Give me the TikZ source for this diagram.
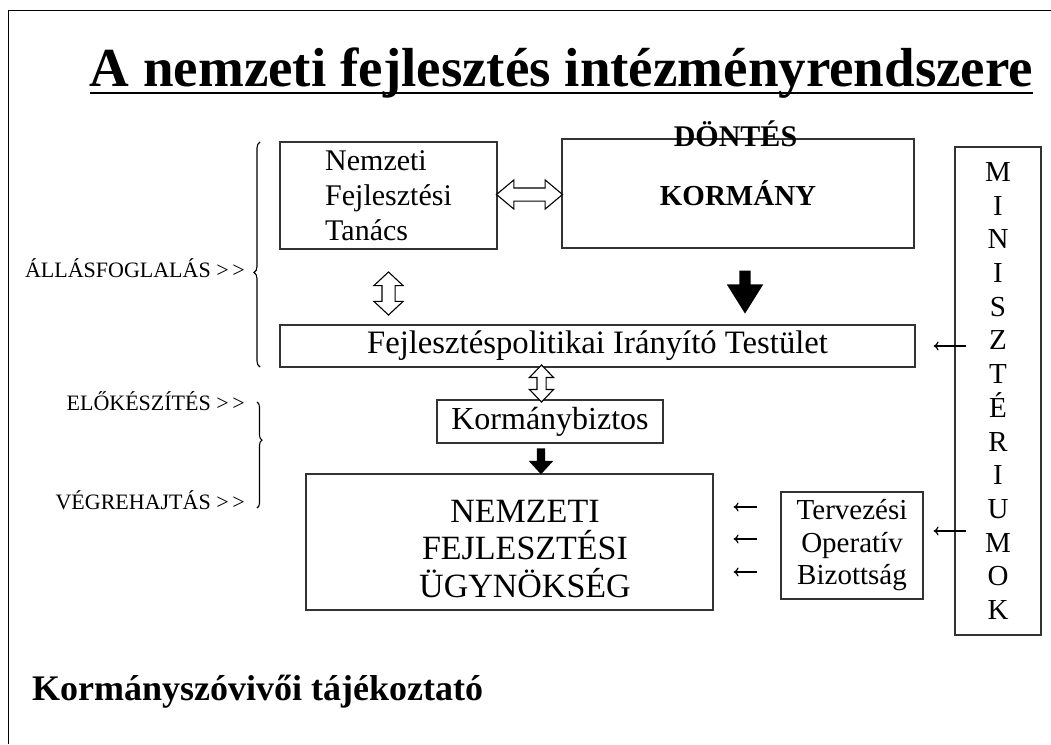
\documentclass[tikz,border=0pt]{standalone}
\usepackage{fontspec}
\setmainfont{Liberation Serif}
\usetikzlibrary{shapes.arrows,decorations.pathreplacing,arrows.meta,calc}
\newcommand{\fsz}[2]{\fontsize{#1}{#2}\selectfont}

\begin{document}
\begin{tikzpicture}[x=1pt,y=-1pt,
  box/.style={draw=black!80,line width=1.2pt,inner sep=0pt},
  hollowarr/.style={double arrow,draw=black,line width=1.1pt,fill=white,inner xsep=0pt,double arrow head indent=0pt},
  solidarr/.style={single arrow,fill=black,inner xsep=0pt,single arrow head indent=0pt,rotate=-90},
  thinarr/.style={line width=1.2pt,-{To[length=5pt,width=9pt]}},
  side/.style={font=\fsz{22}{26},anchor=base east,inner sep=0pt}]
\useasboundingbox (0,0) rectangle (1051,744);
\draw[line width=1.5pt] (1051,10.5) -- (8.5,10.5) -- (8.5,744);

% title
\node[inner sep=0pt,anchor=base,font=\bfseries\fsz{55}{60}] (title) at (561.5,86) {A nemzeti fejlesztés intézményrendszere};
\draw[line width=2.5pt] ([yshift=-7pt]title.base west) -- ([yshift=-7pt]title.base east);

% boxes
\node[box,minimum width=217pt,minimum height=107pt,align=left,font=\fsz{30}{35}] (nft) at (388.5,195.5) {Nemzeti\\Fejlesztési\\Tanács};
\node[box,minimum width=352pt,minimum height=109pt,font=\bfseries\fsz{29}{34}] (korm) at (738,193.5) {KORMÁNY};
\node[inner sep=0pt,anchor=base,font=\bfseries\fsz{30}{34}] (dontes) at (735.5,146) {DÖNTÉS};
\node[box,minimum width=635pt,minimum height=42pt,font=\fsz{32.7}{36}] (fit) at (597.5,346) {Fejlesztéspolitikai Irányító Testület};
\node[box,minimum width=226pt,minimum height=43pt,font=\fsz{32}{36}] (kb) at (550,421.5) {Kormánybiztos};
\node[box,minimum width=407pt,minimum height=136pt] (nfu) at (509.5,542) {};
\node[align=center,font=\fsz{34}{37.5}] (nfutext) at (525,549) {NEMZETI\\FEJLESZTÉSI\\ÜGYNÖKSÉG};
\node[box,minimum width=142pt,minimum height=107pt,align=center,font=\fsz{29}{32.5}] (tob) at (852,545.5) {Tervezési\\Operatív\\Bizottság};
\node[box,minimum width=86pt,minimum height=488pt,align=center,font=\fsz{29}{33.7}] (min) at (998,391) {M\\I\\N\\I\\S\\Z\\T\\É\\R\\I\\U\\M\\O\\K};

% block arrows
\node[hollowarr,minimum height=66pt,inner ysep=6pt,double arrow head extend=8pt,double arrow tip angle=80] (ha1) at ($(nft.east)!.5!(korm.west)$) {};
\node[hollowarr,rotate=90,minimum height=43pt,inner ysep=6pt,double arrow head extend=8pt,double arrow tip angle=94] (ha2) at (nft.south |- 0,293.5) {};
\node[hollowarr,rotate=90,minimum height=37pt,inner ysep=4pt,double arrow head extend=7.5pt,double arrow tip angle=88] (ha3) at (541.5,383.5) {};
\node[solidarr,minimum height=43pt,inner ysep=5.5pt,single arrow head extend=12.5pt,single arrow tip angle=64] (ba1) at (745,287.5) {};
\node[solidarr,minimum height=26pt,inner ysep=4pt,single arrow head extend=8pt,single arrow tip angle=85] (ba2) at (541,459) {};

% thin arrows
\draw[thinarr] ([xshift=12pt]min.west |- fit.east) -- ([xshift=18pt]fit.east);
\draw[thinarr] ([xshift=12pt]min.west |- 0,531) -- ([xshift=10pt]tob.east |- 0,531);
\foreach \yy in {507,539,572}
  \draw[thinarr] ([xshift=-23pt]tob.west |- 0,\yy) -- ([xshift=20pt]nfu.east |- 0,\yy);

% braces and side labels
\draw[line width=1.1pt,decorate,decoration={brace,amplitude=6pt,aspect=0.42}] (260,367) -- (260,142);
\draw[line width=1.1pt,decorate,decoration={brace,amplitude=5pt,aspect=0.36}] (257,402) -- (257,508);
\node[side] (allas) at (245,277) {ÁLLÁSFOGLALÁS >\,>};
\node[side] (elo) at (245,410) {ELŐKÉSZÍTÉS >\,>};
\node[side] (vegre) at (245,509) {VÉGREHAJTÁS >\,>};

\node[inner sep=0pt,anchor=base west,font=\bfseries\fsz{36}{42}] (kszt) at (32,700) {Kormányszóvivői tájékoztató};
\end{tikzpicture}
\end{document}
